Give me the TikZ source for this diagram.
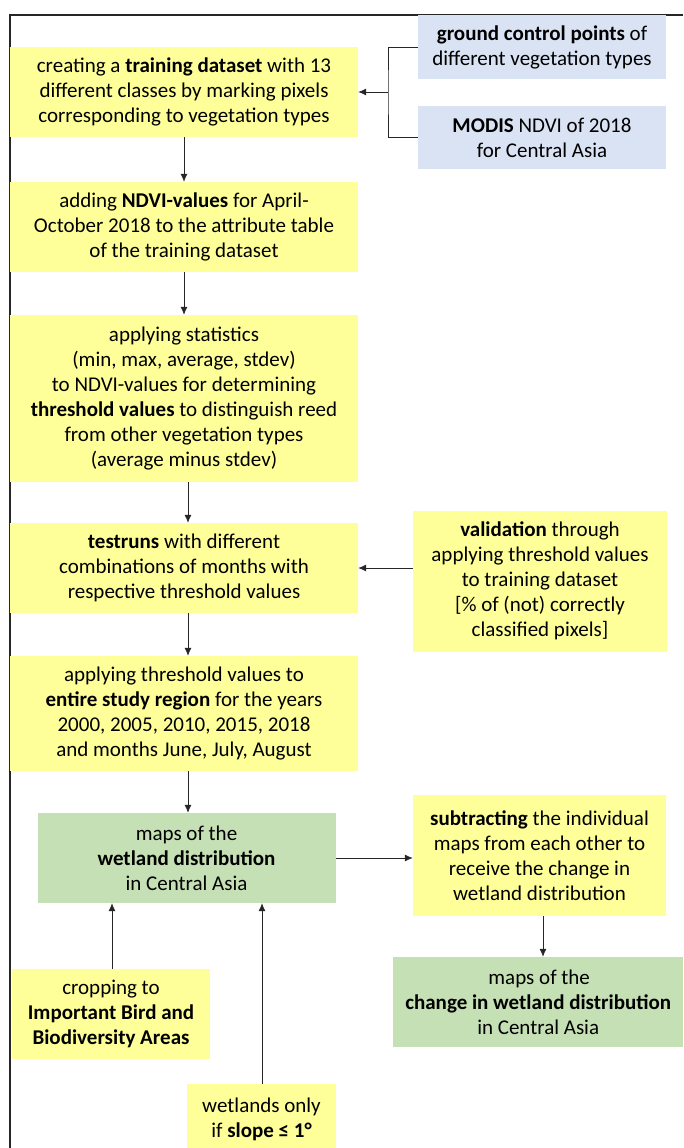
\documentclass[tikz,border=0pt]{standalone}
\usepackage{fontspec}
\setmainfont{Carlito}
\usetikzlibrary{arrows.meta}
\definecolor{yel}{HTML}{FFFF99}
\definecolor{blu}{HTML}{DAE3F3}
\definecolor{grn}{HTML}{C5E0B4}
\definecolor{ln}{HTML}{262626}
\tikzset{
  box/.style={inner sep=0pt, align=center, font=\fontsize{21}{25}\selectfont, text=black},
  ybox/.style={box, fill=yel},
  bbox/.style={box, fill=blu},
  gbox/.style={box, fill=grn},
  arr/.style={draw=ln, line width=0.8pt, -{Latex[length=8pt,width=7pt]}},
  ln/.style={draw=ln, line width=0.8pt},
}
\begin{document}
\begin{tikzpicture}[x=1pt,y=-1pt]
\useasboundingbox (0,0) rectangle (683,1148);
% frame
\draw[ln, line width=1.5pt] (683,15) -- (10,15) -- (10,1148);
% boxes
\node[ybox, minimum width=348pt, minimum height=90pt] (train) at (184,92)
  {creating a \textbf{training dataset} with 13\\different classes by marking pixels\\corresponding to vegetation types};
\node[bbox, minimum width=248pt, minimum height=64pt] (gcp) at (542,47)
  {\textbf{ground control points} of\\different vegetation types};
\node[bbox, minimum width=248pt, minimum height=63pt] (modis) at (542,137.5)
  {\textbf{MODIS} NDVI of 2018\\for Central Asia};
\node[ybox, minimum width=348pt, minimum height=90pt] (ndvi) at (184,227)
  {adding \textbf{NDVI-values} for April-\\October 2018 to the attribute table\\of the training dataset};
\node[ybox, minimum width=348pt, minimum height=167pt] (stats) at (184,398.5)
  {applying statistics\\(min, max, average, stdev)\\to NDVI-values for determining\\\textbf{threshold values} to distinguish reed\\from other vegetation types\\(average minus stdev)};
\node[ybox, minimum width=348pt, minimum height=90pt] (test) at (184,568)
  {\textbf{testruns} with different\\combinations of months with\\respective threshold values};
\node[ybox, minimum width=254pt, minimum height=141pt] (valid) at (540,581)
  {\textbf{validation} through\\applying threshold values\\to training dataset\\{}[\% of (not) correctly\\classified pixels]};
\node[ybox, minimum width=348pt, minimum height=115pt] (entire) at (184,713.5)
  {applying threshold values to\\\textbf{entire study region} for the years\\2000, 2005, 2010, 2015, 2018\\and months June, July, August};
\node[gbox, minimum width=298pt, minimum height=90pt] (wet) at (186.5,858)
  {maps of the\\\textbf{wetland distribution}\\in Central Asia};
\node[ybox, minimum width=253pt, minimum height=121pt] (sub) at (539.5,855.5)
  {\textbf{subtracting} the individual\\maps from each other to\\receive the change in\\wetland distribution};
\node[gbox, minimum width=290pt, minimum height=90pt, anchor=west] (change) at (393,1002)
  {\hspace*{2pt}maps of the\\\textbf{change in wetland distribution}\\in Central Asia};
\node[ybox, minimum width=198pt, minimum height=90pt] (crop) at (111,1014)
  {cropping to\\\textbf{Important Bird and}\\\textbf{Biodiversity Areas}};
\node[ybox, minimum width=149pt, minimum height=70pt, anchor=north] (slope) at (261.5,1084)
  {wetlands only\\if \textbf{slope ≤ 1°}};
% connectors
\coordinate (j) at (388,92);
\draw[ln] (gcp.west) -| (j) |- (modis.west);
\draw[arr] (j) -- (train.east);
\draw[arr] (train.south) -- (ndvi.north);
\draw[arr] (ndvi.south) -- (stats.north);
\draw[arr] (stats.south -| 188,0) -- (test.north -| 188,0);
\draw[arr] (valid.west |- 0,568) -- (test.east);
\draw[arr] (test.south -| 188,0) -- (entire.north -| 188,0);
\draw[arr] (entire.south -| 188,0) -- (wet.north -| 188,0);
\draw[arr] (wet.east) -- (sub.west |- wet.east);
\draw[arr] (sub.south -| 543,0) -- (change.north -| 543,0);
\draw[arr] (crop.north -| 112,0) -- (wet.south -| 112,0);
\draw[arr] (slope.north -| 262,0) -- (wet.south -| 262,0);
\end{tikzpicture}
\end{document}
